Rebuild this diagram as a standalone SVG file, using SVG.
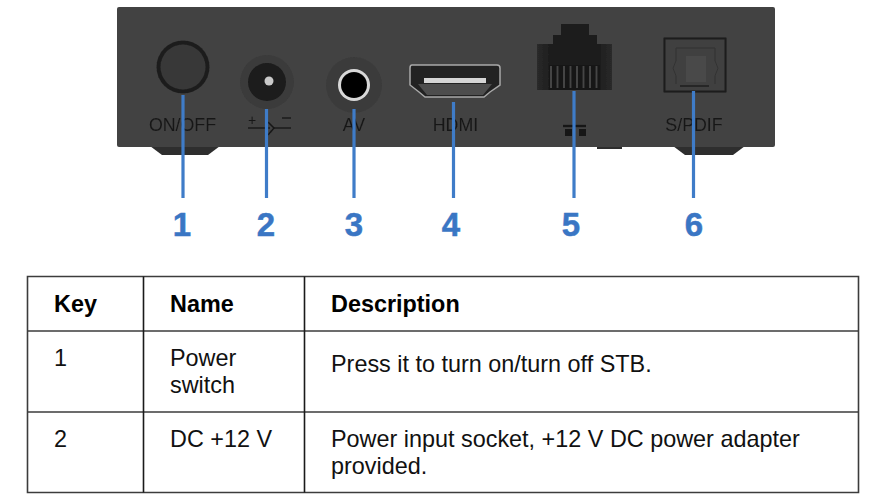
<svg xmlns="http://www.w3.org/2000/svg" width="872" height="500" viewBox="0 0 872 500">
<defs>
<style>
text{font-family:"Liberation Sans",Arial,sans-serif}
.t{font-size:23.4px;fill:#111}
.h{font-size:23.4px;font-weight:bold;fill:#000}
.dev{font-size:17.8px;fill:#191919;text-anchor:middle}
.num{font-size:33px;font-weight:bold;fill:#3a76c4;stroke:#3a76c4;stroke-width:.5;text-anchor:middle}
.c{stroke:#3f7cc8;stroke-width:3.2;fill:none}
.g{stroke:#3c3c3c;stroke-width:1.6;fill:none}
.v{stroke:#1a1a1a;stroke-width:1.6;fill:none}
</style>
<filter id="soft" x="-5%" y="-5%" width="110%" height="110%"><feGaussianBlur stdDeviation="0.6"/></filter>
<linearGradient id="rj" x1="0" y1="0" x2="1" y2="0"><stop offset="0" stop-color="#2a2a2a"/><stop offset=".2" stop-color="#1c1c1c"/><stop offset=".8" stop-color="#1c1c1c"/><stop offset="1" stop-color="#2a2a2a"/></linearGradient>
</defs>
<rect width="872" height="500" fill="#fff"/>
<g id="device">
<path d="M150 146L162 155H208L220 146Z" fill="#2e2e2e"/>
<path d="M673 146L685 155H733L745 146Z" fill="#2e2e2e"/>
<rect x="597" y="146" width="25" height="3" fill="#2e2e2e"/>
<rect x="117" y="7" width="658" height="140" rx="2" fill="#424242"/>
</g>
<g id="power-switch">
<g filter="url(#soft)">
<circle cx="183" cy="67" r="26.500" fill="#1f1f1f"/>
<circle cx="183" cy="67" r="22.500" fill="#383838"/>
<text class="dev" x="182.500" y="131">ON/OFF</text>
</g>
</g>
<g id="dc-socket">
<g filter="url(#soft)">
<circle cx="267" cy="82" r="27" fill="#3b3b3b"/>
<circle cx="267" cy="82" r="19" fill="#1c1c1c"/>
<circle cx="269" cy="81" r="4.500" fill="#c9c9c9"/>
<text x="252" y="125" font-size="14" fill="#191919" text-anchor="middle">+</text>
<path d="M282 118H291" stroke="#191919" stroke-width="1.500"/>
<path d="M248 128H270M273 128H291" stroke="#191919" stroke-width="1.500" fill="none"/>
<path d="M268 122L274 128L268 135" stroke="#191919" stroke-width="1.500" fill="none"/>
</g>
</g>
<g id="av-socket">
<g filter="url(#soft)">
<circle cx="354" cy="85" r="28" fill="#3b3b3b"/>
<circle cx="354" cy="85" r="16" fill="#d8d8d8"/>
<circle cx="354" cy="85" r="13" fill="#050505"/>
<text class="dev" x="354" y="131">AV</text>
</g>
</g>
<g id="hdmi-port">
<g filter="url(#soft)">
<path d="M412 65H497Q500 65 500 68V85L490 92L484 97H425L419 92L410 85V68Q410 65 412 65Z" fill="#222" stroke="#a8a8a8" stroke-width="1.500"/>
<path d="M418 84H492L483 95H427Z" fill="#4e4e4e"/>
<rect x="424" y="78" width="62" height="5" fill="#d5d5d5"/>
<text class="dev" x="455.500" y="131">HDMI</text>
</g>
</g>
<g id="ethernet-port">
<g filter="url(#soft)">
<path d="M537 44H553V35H561V24H589V35H597V44H612V90H537Z" fill="url(#rj)"/>
<path d="M549 65H600V90H549Z" fill="#141414"/>
<path d="M551 66V88M557.500 66V88M564 66V88M570.500 66V88M577 66V88M583.500 66V88M590 66V88M596.500 66V88" stroke="#454545" stroke-width="2"/>
<path d="M563 126H586" stroke="#191919" stroke-width="2.500"/>
<rect x="565" y="129" width="7" height="7" fill="#191919"/>
<rect x="579" y="129" width="7" height="7" fill="#191919"/>
</g>
</g>
<g id="spdif-port">
<g filter="url(#soft)">
<rect x="664.500" y="38.500" width="61" height="53" fill="#404040" stroke="#1c1c1c" stroke-width="2"/>
<path d="M676 48H715V61L718 68L715 76V84M676 84V76L673 68L676 61V48" fill="none" stroke="#333" stroke-width="1"/>
<rect x="686" y="56" width="20" height="26" fill="#4a4a4a"/>
<path d="M680 86H709" stroke="#1c1c1c" stroke-width="1.500"/>
<text class="dev" x="694" y="131">S/PDIF</text>
</g>
</g>
<g id="connectors">
<path class="c" d="M183 95V198"/>
<path class="c" d="M266.500 109V198"/>
<path class="c" d="M354 109V198"/>
<path class="c" d="M453.500 102V198"/>
<path class="c" d="M574 91V198"/>
<path class="c" d="M693.500 91V198"/>
</g>
<g id="callouts">
<text class="num" x="182" y="236">1</text>
<text class="num" x="266" y="236">2</text>
<text class="num" x="354" y="236">3</text>
<text class="num" x="451" y="236">4</text>
<text class="num" x="571" y="236">5</text>
<text class="num" x="694" y="236">6</text>
</g>
<g id="table">
<path class="g" d="M27.500 276.500H858.500V492.500H27.500ZM27.500 331H858.500M27.500 412H858.500"/>
<path class="v" d="M143.500 276.500V492.500M304.500 276.500V492.500"/>
<text class="h" x="54" y="312">Key</text>
<text class="h" x="170" y="312">Name</text>
<text class="h" x="331" y="312">Description</text>
<text class="t" x="54" y="366">1</text>
<text class="t" x="170" y="366">Power</text>
<text class="t" x="170" y="393">switch</text>
<text class="t" x="331" y="372">Press it to turn on/turn off STB.</text>
<text class="t" x="54" y="447">2</text>
<text class="t" x="170" y="447">DC +12 V</text>
<text class="t" x="331" y="447">Power input socket, +12 V DC power adapter</text>
<text class="t" x="331" y="474">provided.</text>
</g>
</svg>
